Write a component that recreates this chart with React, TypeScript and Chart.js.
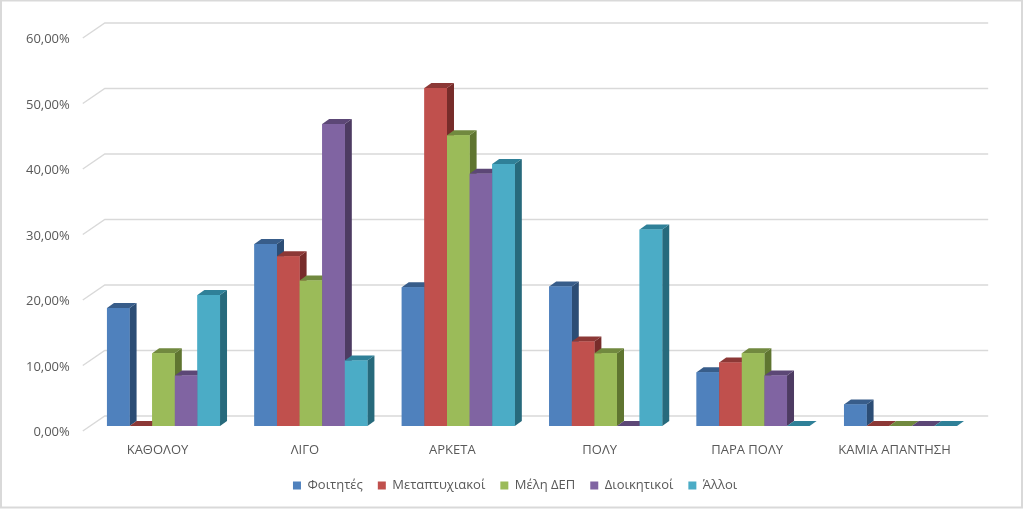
import React, { useEffect, useRef } from "react";
import { Chart, registerables } from "chart.js";

Chart.register(...registerables);

const categories = ["ΚΑΘΟΛΟΥ", "ΛΙΓΟ", "ΑΡΚΕΤΑ", "ΠΟΛΥ", "ΠΑΡΑ ΠΟΛΥ", "ΚΑΜΙΑ ΑΠΑΝΤΗΣΗ"];
const students = [18.0, 27.8, 21.2, 21.3, 8.2, 3.3];
const postgraduates = [0, 25.9, 51.6, 12.9, 9.7, 0];
const faculty = [11.1, 22.2, 44.4, 11.1, 11.1, 0];
const administrative = [7.7, 46.1, 38.5, 0, 7.7, 0];
const others = [20, 10, 40, 30, 0, 0];

const seriesNames = ["Φοιτητές", "Μεταπτυχιακοί", "Μέλη ΔΕΠ", "Διοικητικοί", "Άλλοι"];
const seriesValues = [students, postgraduates, faculty, administrative, others];
const frontColors = ["#4F81BD", "#C0504D", "#9BBB59", "#8064A2", "#4BACC6"];
const sideColors = ["#2C4D75", "#772C2A", "#5F7530", "#4D3B62", "#276A7C"];
const topColors = ["#385D8A", "#8C3836", "#71893F", "#5C4776", "#2F8098"];

const FONT = "'Open Sans', sans-serif";
const TEXT = "#595959";
const GRID = "#D9D9D9";
const DX = 7;
const DY = 5;

const formatPercent = (v: number) => v.toFixed(2).replace(".", ",") + "%";

const poly = (ctx: CanvasRenderingContext2D, pts: number[][], fill: string) => {
  ctx.beginPath();
  pts.forEach((p, i) => (i ? ctx.lineTo(p[0], p[1]) : ctx.moveTo(p[0], p[1])));
  ctx.closePath();
  ctx.fillStyle = fill;
  ctx.fill();
};

const frame3d = {
  id: "frame3d",
  afterLayout(chart: any) {
    const d = 28;
    chart.legend.left += d;
    chart.legend.right += d;
  },
  beforeDraw(chart: any) {
    const ctx = chart.ctx;
    ctx.save();
    ctx.fillStyle = "#FFFFFF";
    ctx.fillRect(0, 0, chart.width, chart.height);
    ctx.strokeStyle = "#D9D9D9";
    ctx.lineWidth = 2;
    ctx.strokeRect(1, 0.5, chart.width - 2, chart.height - 3);
    ctx.restore();
  },
  beforeDatasetsDraw(chart: any) {
    const { ctx, chartArea, scales } = chart;
    ctx.save();
    ctx.strokeStyle = GRID;
    ctx.lineWidth = 1.4;
    scales.y.ticks.forEach((t: any) => {
      const p = scales.y.getPixelForValue(t.value);
      ctx.beginPath();
      ctx.moveTo(chartArea.left - 7, p + DY);
      ctx.lineTo(chartArea.left + 15, p - 10);
      ctx.lineTo(chartArea.right + 14, p - 10);
      ctx.stroke();
    });
    ctx.restore();
  },
  afterDatasetsDraw(chart: any) {
    const ctx = chart.ctx;
    ctx.save();
    chart.data.datasets.forEach((_: any, i: number) => {
      chart.getDatasetMeta(i).data.forEach((bar: any) => {
        const { x, y, base, width } = bar.getProps(["x", "y", "base", "width"], true);
        const l = x - width / 2;
        const r = x + width / 2;
        poly(ctx, [[r, y], [r + DX, y - DY], [r + DX, base - DY], [r, base]], sideColors[i]);
        poly(ctx, [[l, y], [l + DX, y - DY], [r + DX, y - DY], [r, y]], topColors[i]);
        bar.draw(ctx);
      });
    });
    ctx.restore();
  },
};

export default function App() {
  const ref = useRef<HTMLCanvasElement>(null);
  useEffect(() => {
    const chart = new Chart(ref.current!, {
      type: "bar",
      data: {
        labels: categories,
        datasets: seriesNames.map((name, i) => ({
          label: name,
          data: seriesValues[i],
          backgroundColor: frontColors[i],
          borderWidth: 0,
          categoryPercentage: 0.767,
          barPercentage: 1,
        })),
      },
      options: {
        responsive: false,
        animation: false,
        devicePixelRatio: 1,
        layout: { padding: { left: 0, right: 48.8, top: 33, bottom: 8 } },
        plugins: {
          tooltip: { enabled: false },
          legend: {
            position: "bottom",
            labels: {
              boxWidth: 8,
              boxHeight: 8,
              padding: 15,
              color: TEXT,
              font: { family: FONT, size: 13 },
            },
          },
        },
        scales: {
          x: {
            grid: { display: false },
            border: { display: false },
            ticks: {
              color: TEXT,
              font: { family: FONT, size: 13 },
              padding: 8,
              labelOffset: -6,
              maxRotation: 0,
              autoSkip: false,
            },
            afterFit: (s: any) => {
              s.height = 38;
            },
          },
          y: {
            min: 0,
            max: 60,
            grid: { display: false, drawTicks: false },
            border: { display: false },
            ticks: {
              stepSize: 10,
              color: TEXT,
              font: { family: FONT, size: 13 },
              padding: 20,
              labelOffset: 6.5,
              callback: (v: any) => formatPercent(Number(v)),
            },
            afterFit: (s: any) => {
              s.width = 89.8;
            },
          },
        },
      },
      plugins: [frame3d],
    } as any);
    return () => chart.destroy();
  }, []);
  return (
    <div style={{ position: "absolute", left: 0, top: 0, width: 1023, height: 510 }}>
      <canvas ref={ref} width={1023} height={510} style={{ display: "block" }} />
    </div>
  );
}
